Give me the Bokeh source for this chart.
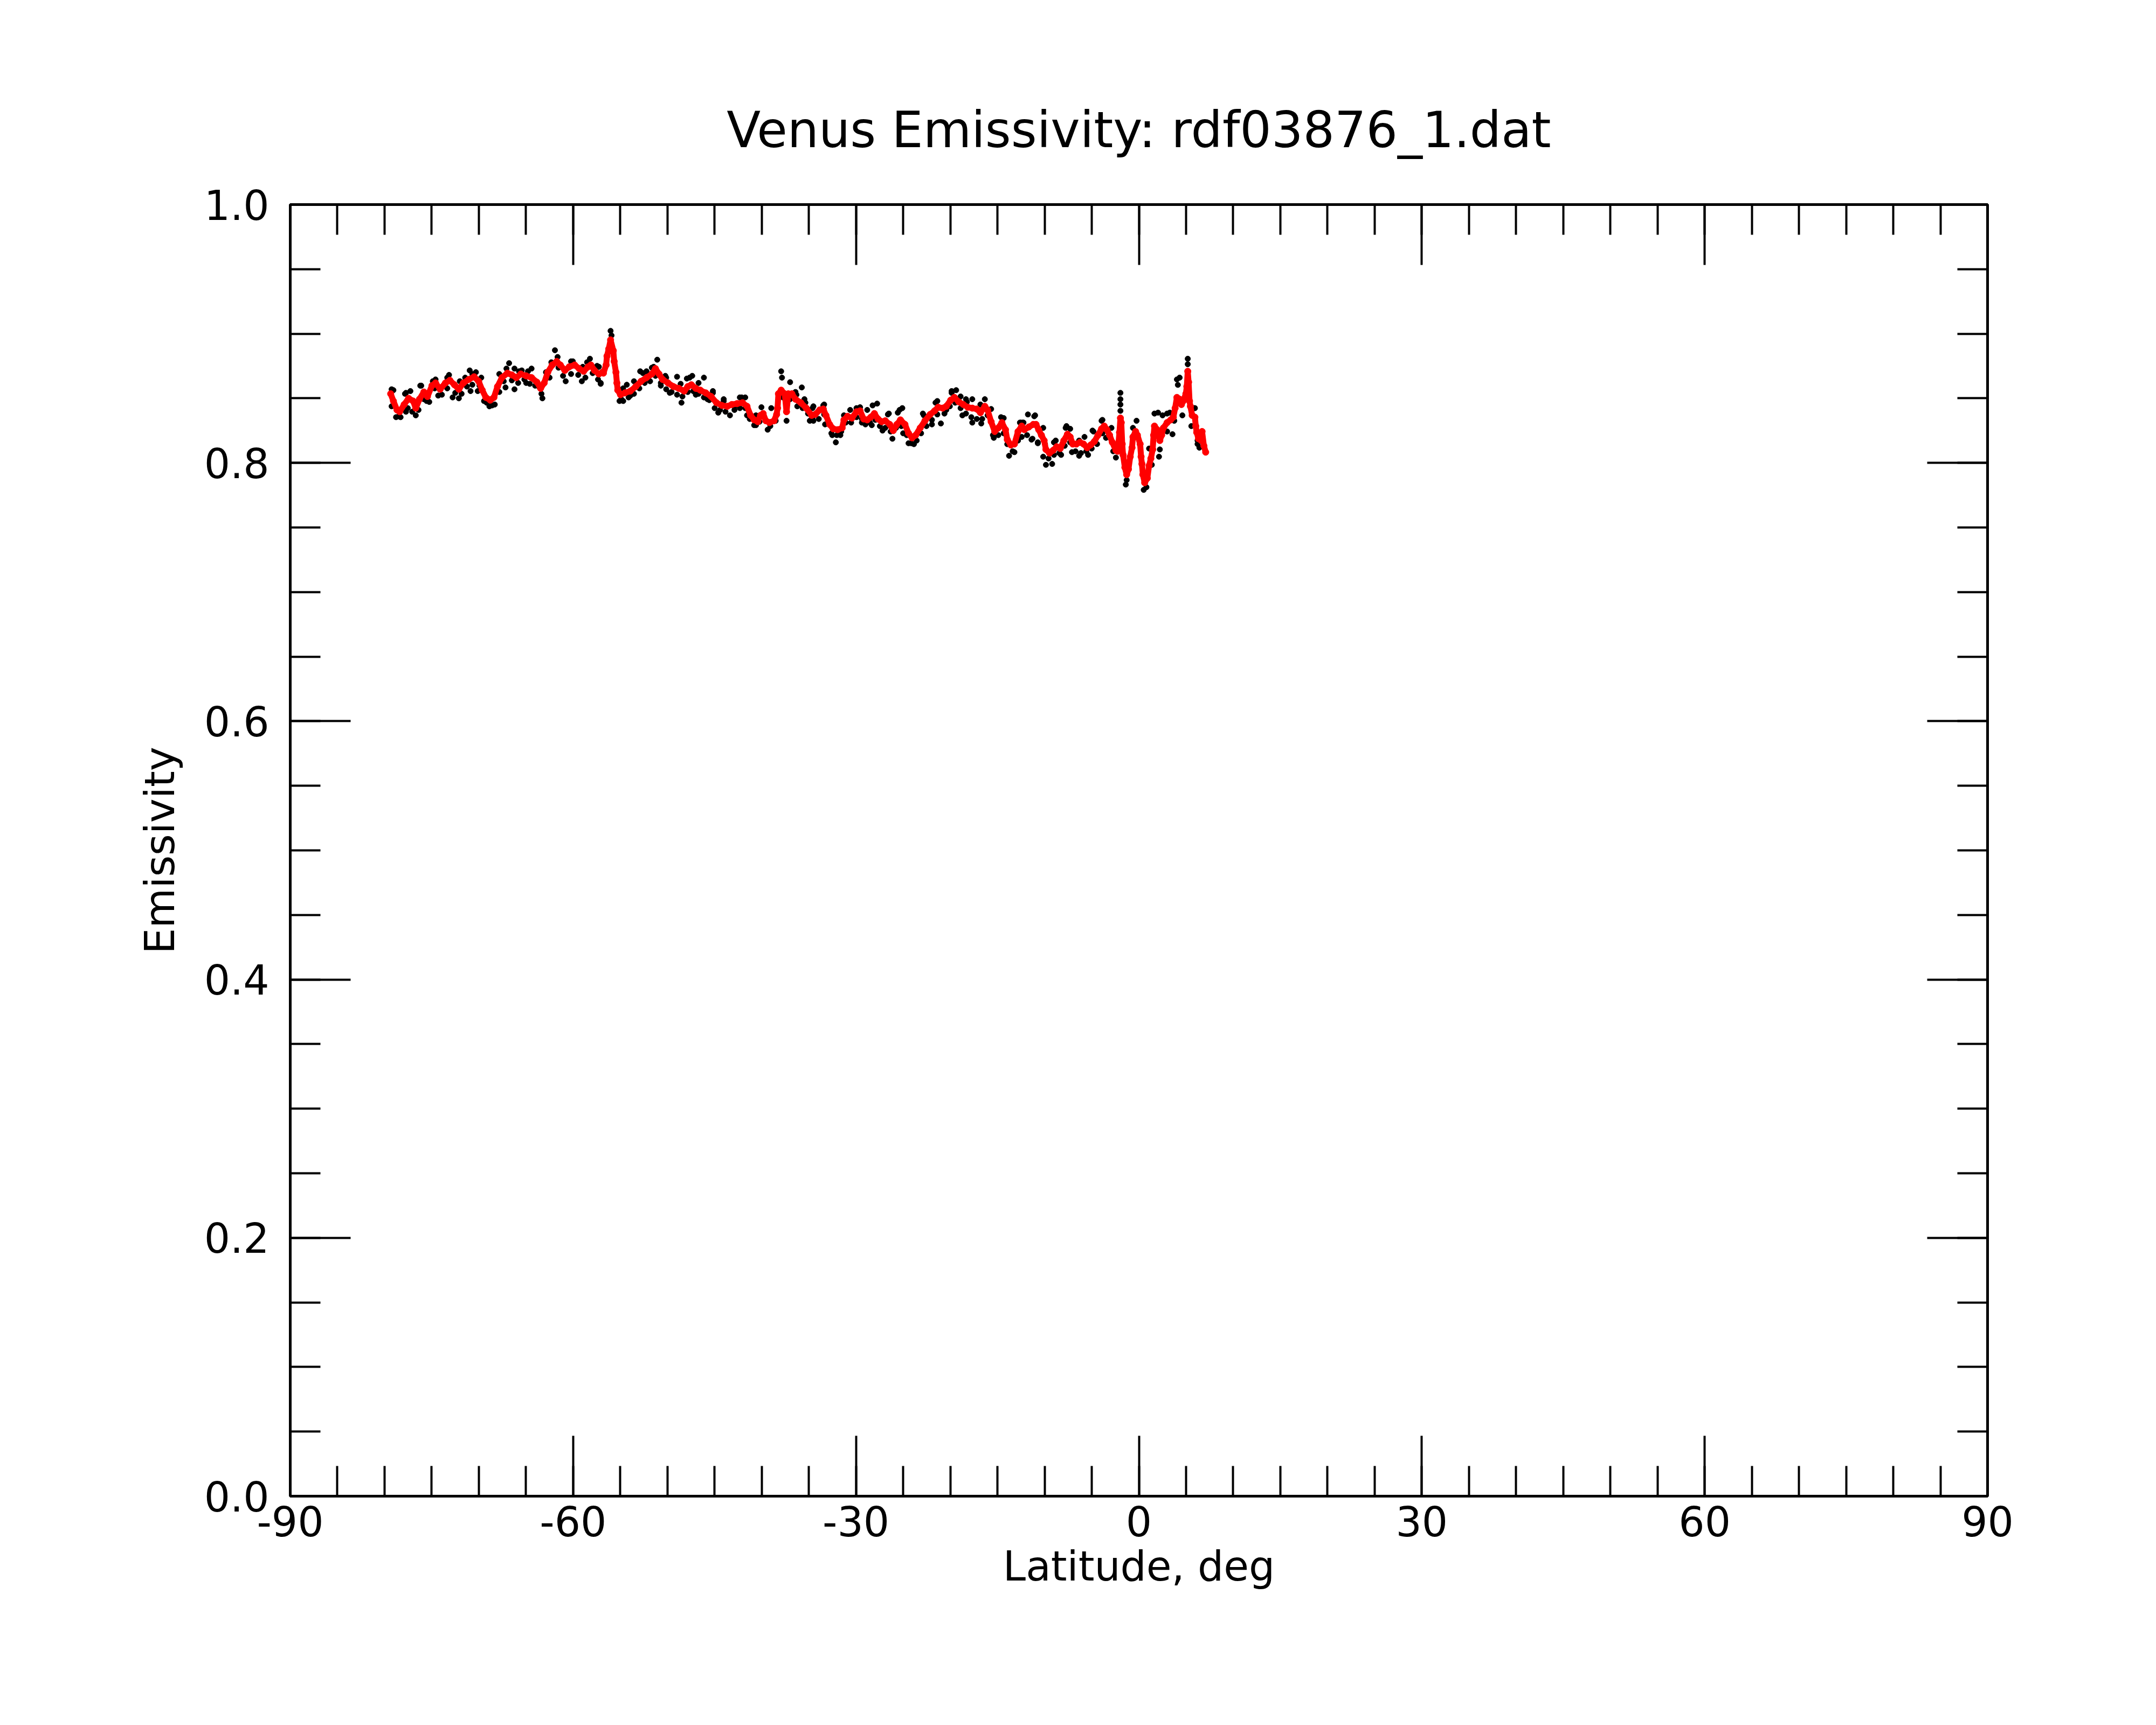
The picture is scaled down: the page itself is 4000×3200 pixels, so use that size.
from bokeh.plotting import figure
from bokeh.models import Range1d, LinearAxis, SingleIntervalTicker, PrintfTickFormatter
from bokeh.embed import file_html
from bokeh.resources import INLINE

TITLE = "Venus Emissivity: rdf03876_1.dat"
X_LABEL = "Latitude, deg"
Y_LABEL = "Emissivity"

# smoothed emissivity (red), by latitude
red_lat_a = [-79.35, -79.06, -78.68, -78.40, -77.92, -77.45, -76.97, -76.69, -76.30, -75.83,
             -75.45, -74.97, -74.59, -74.11, -73.54, -73.07, -72.59, -72.12, -71.64, -71.07,
             -70.50, -70.02, -69.64, -69.26, -68.79, -68.40, -68.02, -67.55, -66.97, -66.50,
             -66.02, -65.55, -64.98, -64.41, -63.84, -63.45, -63.07, -62.69, -62.22, -61.74,
             -61.36, -60.88, -60.41, -59.84, -59.36, -58.89, -58.41, -58.12, -57.74, -57.27,
             -56.89]
red_val_a = [0.8535, 0.8479, 0.8410, 0.8396, 0.8452, 0.8500, 0.8479, 0.8424, 0.8493, 0.8549,
             0.8514, 0.8598, 0.8619, 0.8570, 0.8619, 0.8639, 0.8605, 0.8570, 0.8619, 0.8646,
             0.8667, 0.8632, 0.8563, 0.8507, 0.8486, 0.8507, 0.8591, 0.8660, 0.8695, 0.8681,
             0.8660, 0.8688, 0.8674, 0.8660, 0.8625, 0.8577, 0.8619, 0.8702, 0.8758, 0.8785,
             0.8758, 0.8716, 0.8744, 0.8758, 0.8730, 0.8709, 0.8744, 0.8758, 0.8716, 0.8688,
             0.8702]
red_lat_b = [-56.79, -56.50, -56.41, -56.22, -56.03, -55.74, -55.65, -55.46, -55.36, -55.27,
             -54.98, -54.51, -53.93, -53.36, -52.79, -52.22, -51.65, -51.27, -50.89, -50.51,
             -49.94, -49.37, -48.79, -48.22, -47.84, -47.46, -46.99, -46.51, -45.94, -45.37,
             -44.80, -44.23, -43.65, -43.18, -42.61, -42.04, -41.56, -41.18, -40.80, -40.42,
             -40.13, -39.85, -39.56, -39.18, -38.70, -38.42, -38.32, -38.23, -37.94, -37.56,
             -37.37, -37.18, -36.80, -36.42, -35.85, -35.28, -34.70]
red_val_b = [0.8695, 0.8758, 0.8827, 0.8883, 0.8952, 0.8869, 0.8786, 0.8702, 0.8619, 0.8563,
             0.8528, 0.8542, 0.8556, 0.8591, 0.8632, 0.8660, 0.8688, 0.8730, 0.8688, 0.8646,
             0.8619, 0.8591, 0.8577, 0.8556, 0.8591, 0.8605, 0.8577, 0.8563, 0.8542, 0.8514,
             0.8466, 0.8445, 0.8438, 0.8452, 0.8459, 0.8466, 0.8438, 0.8368, 0.8333, 0.8319,
             0.8368, 0.8382, 0.8326, 0.8312, 0.8326, 0.8375, 0.8424, 0.8535, 0.8563, 0.8535,
             0.8396, 0.8535, 0.8535, 0.8493, 0.8466, 0.8424, 0.8368]
red_lat_c = [-34.33, -33.85, -33.47, -33.19, -32.80, -32.42, -31.95, -31.47, -31.28, -30.90,
             -30.43, -29.95, -29.57, -29.19, -28.81, -28.43, -28.05, -27.67, -27.28, -26.90,
             -26.43, -26.05, -25.67, -25.29, -24.81, -24.43, -24.05, -23.67, -23.19, -22.69,
             -22.14, -21.67, -21.29, -20.81, -20.43, -19.96, -19.57, -19.10, -18.62, -18.15,
             -17.67, -17.19, -16.81, -16.34, -16.05, -15.67, -15.29, -14.91, -14.53, -14.15,
             -13.96, -13.58, -13.20, -12.82, -12.43]
red_val_c = [0.8375, 0.8410, 0.8417, 0.8368, 0.8298, 0.8264, 0.8257, 0.8271, 0.8333, 0.8361,
             0.8347, 0.8396, 0.8403, 0.8340, 0.8333, 0.8354, 0.8382, 0.8340, 0.8319, 0.8326,
             0.8298, 0.8250, 0.8298, 0.8333, 0.8298, 0.8229, 0.8194, 0.8215, 0.8271, 0.8326,
             0.8375, 0.8403, 0.8431, 0.8424, 0.8438, 0.8486, 0.8507, 0.8472, 0.8452, 0.8431,
             0.8424, 0.8417, 0.8389, 0.8438, 0.8410, 0.8319, 0.8243, 0.8271, 0.8312, 0.8257,
             0.8180, 0.8139, 0.8146, 0.8243, 0.8285]
red_lat_d = [-12.15, -11.67, -11.20, -10.91, -10.63, -10.34, -10.05, -9.86, -9.48, -9.10,
             -8.72, -8.34, -7.96, -7.58, -7.29, -7.01, -6.63, -6.25, -5.87, -5.49,
             -5.11, -4.72, -4.34, -3.96, -3.68, -3.39, -3.11, -2.82, -2.44, -2.25,
             -2.06, -1.96, -1.87, -1.77, -1.68, -1.49, -1.30, -1.11, -0.92, -0.73,
             -0.63, -0.35, -0.16, 0.13, 0.23, 0.32, 0.42, 0.61, 0.89, 1.08,
             1.27, 1.46, 1.56, 1.65, 1.94, 2.22, 2.41, 2.60, 2.99, 3.37,
             3.65, 3.84, 4.03, 4.32, 4.51, 4.70, 4.98, 5.08, 5.18, 5.27,
             5.37, 5.46, 5.65, 5.94, 6.03, 6.13, 6.32, 6.60, 6.70, 6.89,
             7.08]
red_val_d = [0.8257, 0.8278, 0.8298, 0.8298, 0.8257, 0.8215, 0.8173, 0.8104, 0.8076, 0.8097,
             0.8125, 0.8111, 0.8173, 0.8222, 0.8201, 0.8146, 0.8146, 0.8159, 0.8146, 0.8118,
             0.8139, 0.8166, 0.8215, 0.8264, 0.8285, 0.8257, 0.8215, 0.8159, 0.8097, 0.8090,
             0.8236, 0.8347, 0.8312, 0.8146, 0.8062, 0.7965, 0.7909, 0.7951, 0.8048, 0.8118,
             0.8201, 0.8243, 0.8215, 0.8146, 0.8048, 0.7992, 0.7909, 0.7846, 0.7881, 0.7979,
             0.8034, 0.8104, 0.8215, 0.8285, 0.8257, 0.8173, 0.8215, 0.8271, 0.8312, 0.8333,
             0.8354, 0.8424, 0.8507, 0.8493, 0.8452, 0.8479, 0.8535, 0.8591, 0.8709, 0.8625,
             0.8479, 0.8438, 0.8368, 0.8354, 0.8285, 0.8236, 0.8187, 0.8173, 0.8243, 0.8132,
             0.8083]

# raw emissivity samples (black): scattered / outlying samples
black_lat_a = [-79.06, -78.49, -77.73, -77.73, -77.26, -76.69, -76.11, -75.54, -74.59, -74.31,
               -73.16, -72.78, -72.12, -72.02, -70.97, -70.88, -70.31, -70.12, -69.74, -69.45,
               -68.88, -68.31, -67.17, -66.79, -66.22, -66.22, -65.45, -64.98, -64.41, -64.03,
               -63.26, -62.88, -61.93, -61.65, -60.79, -60.03, -59.08, -58.98, -58.22, -57.46,
               -57.08]
black_val_a = [0.8563, 0.8361, 0.8542, 0.8396, 0.8556, 0.8368, 0.8598, 0.8479, 0.8646, 0.8521,
               0.8681, 0.8507, 0.8500, 0.8632, 0.8716, 0.8556, 0.8702, 0.8556, 0.8660, 0.8479,
               0.8438, 0.8452, 0.8584, 0.8772, 0.8730, 0.8570, 0.8716, 0.8619, 0.8730, 0.8598,
               0.8500, 0.8702, 0.8872, 0.8820, 0.8632, 0.8786, 0.8632, 0.8744, 0.8806, 0.8751,
               0.8612]
black_lat_b = [-57.27, -57.08, -56.03, -55.93, -55.08, -54.69, -54.31, -53.93, -52.89, -52.22,
               -51.65, -51.08, -50.70, -50.22, -49.75, -48.98, -48.51, -47.94, -47.37, -46.99,
               -46.13, -45.75, -45.18, -44.61, -44.03, -43.37, -42.89, -42.13, -41.75, -41.56,
               -40.61, -40.03, -39.37, -38.99, -37.94, -37.85, -37.37, -36.99, -36.32, -35.75,
               -35.37, -34.90]
black_val_b = [0.8744, 0.8619, 0.9022, 0.8987, 0.8479, 0.8479, 0.8605, 0.8521, 0.8709, 0.8709,
               0.8737, 0.8799, 0.8598, 0.8674, 0.8542, 0.8667, 0.8466, 0.8653, 0.8674, 0.8528,
               0.8660, 0.8493, 0.8556, 0.8389, 0.8479, 0.8368, 0.8438, 0.8507, 0.8507, 0.8368,
               0.8292, 0.8431, 0.8257, 0.8424, 0.8709, 0.8660, 0.8326, 0.8625, 0.8528, 0.8584,
               0.8466, 0.8326]
black_lat_c = [-34.61, -33.47, -33.28, -32.52, -32.14, -31.66, -30.62, -29.57, -29.38, -28.33,
               -28.24, -27.76, -27.19, -26.62, -26.14, -25.57, -25.09, -25.00, -24.43, -23.86,
               -22.81, -21.95, -21.38, -21.00, -20.43, -19.86, -19.38, -18.91, -18.72, -18.24,
               -17.67, -17.67, -16.72, -16.34, -15.67, -15.39, -14.34, -13.77, -13.20, -12.34]
black_val_c = [0.8424, 0.8445, 0.8298, 0.8215, 0.8159, 0.8215, 0.8410, 0.8431, 0.8312, 0.8292,
               0.8445, 0.8459, 0.8250, 0.8375, 0.8187, 0.8389, 0.8424, 0.8229, 0.8152, 0.8145,
               0.8368, 0.8298, 0.8479, 0.8305, 0.8410, 0.8542, 0.8563, 0.8514, 0.8368, 0.8472,
               0.8493, 0.8312, 0.8305, 0.8493, 0.8417, 0.8194, 0.8347, 0.8055, 0.8083, 0.8312]
black_lat_d = [-12.53, -11.77, -11.39, -11.01, -10.72, -10.15, -9.86, -9.20, -8.82, -8.25,
               -7.77, -7.29, -7.10, -6.34, -5.77, -5.39, -4.92, -3.96, -3.49, -2.91,
               -2.44, -1.96, -1.96, -1.96, -1.96, -1.39, -1.30, -0.63, -0.25, 0.51,
               0.80, 1.08, 1.37, 1.65, 2.13, 2.22, 2.51, 2.99, 3.27, 3.56,
               3.75, 4.03, 4.13, 4.61, 4.98, 5.18, 5.18, 5.56, 5.94, 6.22,
               6.41]
black_val_d = [0.8312, 0.8375, 0.8180, 0.8368, 0.8152, 0.8271, 0.7985, 0.7992, 0.8173, 0.8062,
               0.8271, 0.8264, 0.8083, 0.8055, 0.8201, 0.8062, 0.8250, 0.8326, 0.8194, 0.8271,
               0.8041, 0.8542, 0.8493, 0.8452, 0.8403, 0.7832, 0.7867, 0.8271, 0.8326, 0.7791,
               0.7812, 0.8111, 0.7985, 0.8382, 0.8048, 0.8104, 0.8368, 0.8243, 0.8389, 0.8222,
               0.8326, 0.8646, 0.8604, 0.8368, 0.8535, 0.8806, 0.8764, 0.8285, 0.8424, 0.8146,
               0.8118]

# raw samples (black) hugging the smoothed curve: lower side
black_lo_lat_a = [-79.25, -78.78, -78.30, -77.54, -77.07, -76.40, -75.83, -75.26, -74.69, -73.92,
                  -73.35, -72.50, -71.83, -71.26, -70.69, -69.93, -69.17, -68.59, -67.83, -67.36,
                  -66.50, -65.83, -65.17, -64.60, -63.64, -63.36, -62.50, -61.55, -61.07, -60.22,
                  -59.46, -58.70, -57.93, -57.36]
black_lo_val_a = [0.8438, 0.8354, 0.8354, 0.8424, 0.8396, 0.8410, 0.8493, 0.8472, 0.8577, 0.8528,
                  0.8577, 0.8542, 0.8535, 0.8591, 0.8605, 0.8598, 0.8466, 0.8445, 0.8549, 0.8632,
                  0.8639, 0.8619, 0.8646, 0.8612, 0.8591, 0.8535, 0.8660, 0.8737, 0.8674, 0.8688,
                  0.8681, 0.8660, 0.8695, 0.8646]
black_lo_lat_b = [-54.89, -54.12, -53.55, -52.98, -52.41, -51.84, -51.27, -50.70, -50.13, -49.56,
                  -48.98, -48.41, -47.84, -47.27, -46.70, -46.13, -45.56, -44.99, -44.42, -43.84,
                  -42.89, -42.32, -41.75, -41.27, -40.80, -40.23, -39.75, -39.09, -38.52, -37.75,
                  -36.99, -36.23, -35.66, -35.09, -34.61]
black_lo_val_b = [0.8493, 0.8507, 0.8535, 0.8577, 0.8619, 0.8632, 0.8674, 0.8619, 0.8570, 0.8549,
                  0.8528, 0.8514, 0.8549, 0.8556, 0.8535, 0.8507, 0.8486, 0.8424, 0.8410, 0.8396,
                  0.8410, 0.8424, 0.8424, 0.8340, 0.8292, 0.8319, 0.8354, 0.8285, 0.8326, 0.8507,
                  0.8493, 0.8438, 0.8424, 0.8382, 0.8340]
black_lo_lat_c = [-34.52, -33.95, -33.38, -33.00, -32.61, -32.04, -31.57, -31.09, -30.52, -29.95,
                  -29.38, -29.00, -28.52, -27.95, -27.47, -26.90, -26.33, -25.76, -25.19, -24.62,
                  -24.14, -23.57, -23.10, -22.53, -21.95, -21.38, -20.62, -20.05, -19.48, -18.91,
                  -18.34, -17.77, -17.19, -16.62, -16.05, -15.48, -14.91, -14.34, -13.96, -13.39,
                  -12.82]
black_lo_val_c = [0.8326, 0.8340, 0.8375, 0.8312, 0.8229, 0.8215, 0.8243, 0.8312, 0.8312, 0.8354,
                  0.8340, 0.8298, 0.8312, 0.8333, 0.8285, 0.8271, 0.8243, 0.8271, 0.8285, 0.8215,
                  0.8152, 0.8173, 0.8229, 0.8285, 0.8333, 0.8375, 0.8382, 0.8438, 0.8466, 0.8424,
                  0.8382, 0.8354, 0.8340, 0.8340, 0.8368, 0.8215, 0.8215, 0.8229, 0.8145, 0.8090,
                  0.8173]
black_lo_lat_d = [-12.43, -11.86, -11.29, -10.72, -10.15, -9.58, -9.01, -8.44, -7.87, -7.29,
                  -6.72, -6.15, -5.58, -5.01, -4.44, -3.87, -3.30, -2.72, 6.22]
black_lo_val_d = [0.8201, 0.8215, 0.8187, 0.8159, 0.8048, 0.8034, 0.8062, 0.8076, 0.8132, 0.8159,
                  0.8090, 0.8076, 0.8090, 0.8111, 0.8146, 0.8229, 0.8201, 0.8090, 0.8173]

# raw samples (black) hugging the smoothed curve: upper side
black_hi_lat = [-79.25, -77.83, -76.21, -74.88, -73.35, -71.45, -70.69, -67.83, -67.07, -65.74,
                -64.79, -62.31, -60.22, -58.52, -54.70, -53.55, -52.60, -51.46, -50.13, -48.60,
                -47.65, -46.70, -45.18, -44.03, -42.32, -40.61, -36.42, -35.47, -34.52, -33.38,
                -31.28, -29.95, -28.81, -26.52, -25.38, -22.91, -21.57, -19.86, -18.34, -16.81,
                -14.62, -12.62, -12.24, -11.10, -9.96, -9.01, -7.68, -6.34, -4.82, -3.87,
                2.03, 2.99, 4.32, 5.84]
black_hi_val = [0.8570, 0.8535, 0.8598, 0.8632, 0.8660, 0.8660, 0.8688, 0.8688, 0.8730, 0.8709,
                0.8709, 0.8779, 0.8786, 0.8779, 0.8577, 0.8632, 0.8695, 0.8744, 0.8660, 0.8612,
                0.8660, 0.8619, 0.8542, 0.8493, 0.8507, 0.8368, 0.8549, 0.8493, 0.8438, 0.8452,
                0.8368, 0.8424, 0.8410, 0.8382, 0.8410, 0.8382, 0.8466, 0.8556, 0.8493, 0.8452,
                0.8354, 0.8312, 0.8312, 0.8361, 0.8146, 0.8159, 0.8285, 0.8173, 0.8243, 0.8333,
                0.8389, 0.8382, 0.8660, 0.8424]

red_lat = red_lat_a + red_lat_b + red_lat_c + red_lat_d
red_val = red_val_a + red_val_b + red_val_c + red_val_d
black_pairs = (list(zip(black_lat_a, black_val_a)) + list(zip(black_lat_b, black_val_b))
               + list(zip(black_lat_c, black_val_c)) + list(zip(black_lat_d, black_val_d))
               + list(zip(black_lo_lat_a, black_lo_val_a)) + list(zip(black_lo_lat_b, black_lo_val_b))
               + list(zip(black_lo_lat_c, black_lo_val_c)) + list(zip(black_lo_lat_d, black_lo_val_d))
               + list(zip(black_hi_lat, black_hi_val)))
black_lat = [a for a, b in black_pairs]
black_val = [b for a, b in black_pairs]
n_r = min(len(red_lat), len(red_val))

FONT = "DejaVu Sans"

p = figure(frame_width=3149, frame_height=2396,
           x_range=Range1d(-90, 90), y_range=Range1d(0, 1),
           min_border_left=538, min_border_right=305,
           min_border_top=379, min_border_bottom=417,
           output_backend="svg", toolbar_location=None,
           title=TITLE)

p.background_fill_color = "white"
p.border_fill_color = "white"
p.grid.visible = False
p.outline_line_color = "black"
p.outline_line_width = 5
p.outline_line_alpha = 1.0

p.title.text_font = FONT
p.title.text_font_size = "92px"
p.title.text_font_style = "normal"
p.title.text_color = "black"
p.title.align = "center"
p.title.standoff = 170

top = LinearAxis()
right = LinearAxis()
p.add_layout(top, "above")
p.add_layout(right, "right")


def style_axis(ax, xdir, show_labels):
    if xdir:
        ax.ticker = SingleIntervalTicker(interval=30, num_minor_ticks=6)
        ax.formatter = PrintfTickFormatter(format="%d")
    else:
        ax.ticker = SingleIntervalTicker(interval=0.2, num_minor_ticks=4)
        ax.formatter = PrintfTickFormatter(format="%.1f")
    ax.axis_line_color = None
    ax.major_tick_in = 112
    ax.major_tick_out = 0
    ax.minor_tick_in = 56
    ax.minor_tick_out = 0
    ax.major_tick_line_width = 4
    ax.minor_tick_line_width = 4
    ax.major_tick_line_color = "black"
    ax.minor_tick_line_color = "black"
    ax.major_label_text_font = FONT
    ax.major_label_text_font_size = "76px"
    if show_labels:
        ax.major_label_text_color = "black"
    else:
        ax.major_label_text_color = None


for ax in p.xaxis:
    style_axis(ax, True, False)
for ax in p.yaxis:
    style_axis(ax, False, False)

bx = p.below[0]
ly = p.left[0]
style_axis(bx, True, True)
style_axis(ly, False, True)
bx.major_label_standoff = 18
ly.major_label_standoff = 39
bx.axis_label = X_LABEL
ly.axis_label = Y_LABEL
for ax in (bx, ly):
    ax.axis_label_text_font = FONT
    ax.axis_label_text_font_size = "76px"
    ax.axis_label_text_font_style = "normal"
    ax.axis_label_text_color = "black"
bx.axis_label_standoff = 8
ly.axis_label_standoff = 35

p.scatter(black_lat, black_val, size=10, color="black", marker="circle")
p.line(red_lat[:n_r], red_val[:n_r], line_color="red", line_width=11)
p.scatter(red_lat[:n_r], red_val[:n_r], size=12, color="red", marker="circle")

open("out.html", "w").write(file_html(p, INLINE))
